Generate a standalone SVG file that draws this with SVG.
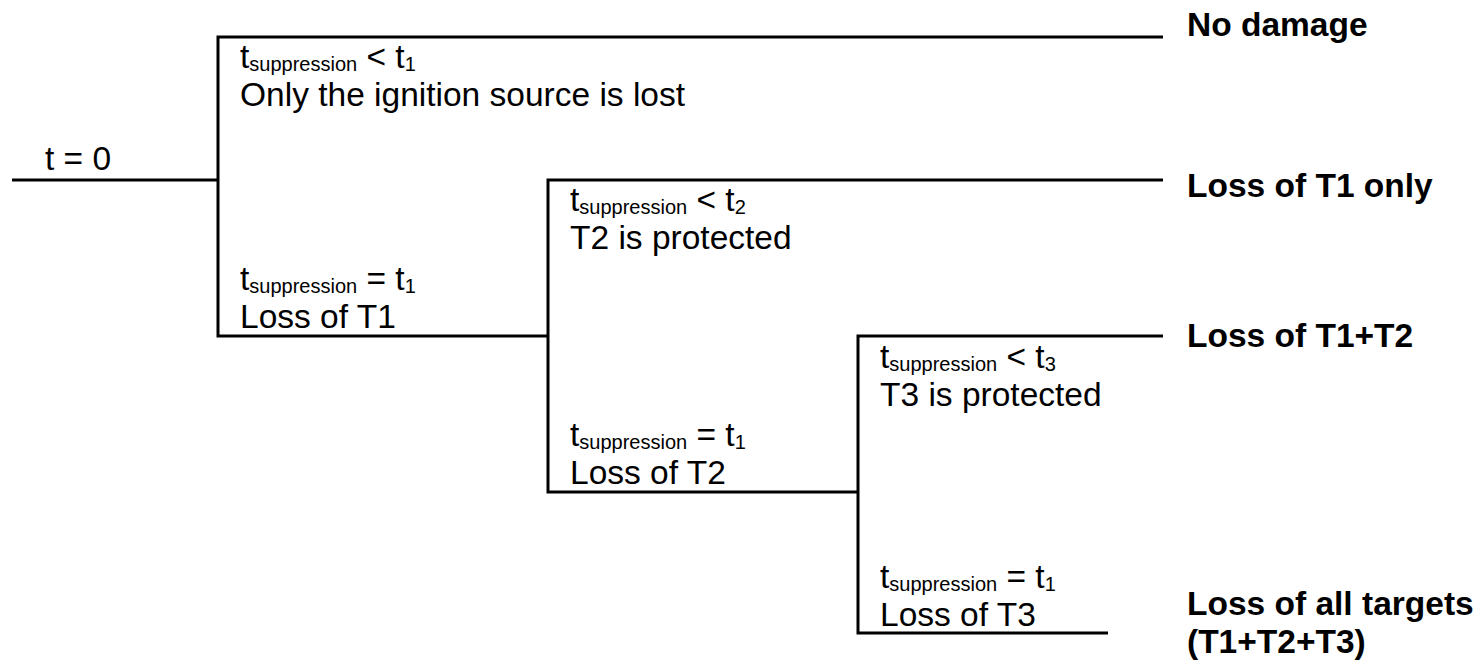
<svg xmlns="http://www.w3.org/2000/svg" width="1482" height="663" viewBox="0 0 1482 663">
<style>
  .ln { fill: none; stroke: #000; stroke-width: 3; stroke-linecap: butt; stroke-linejoin: miter; }
  .t { font-family: "Liberation Sans", Arial, sans-serif; font-size: 33.5px; fill: #000; }
  .sub { font-size: 20px; }
  .b { font-family: "Liberation Sans", Arial, sans-serif; font-size: 33.5px; font-weight: bold; fill: #000; }
</style>
<rect width="1482" height="663" fill="#fff"/>
<g id="connectors">
  <path class="ln" d="M12,180 H218"/>
  <path class="ln" d="M1163,37 H218 V336 H548"/>
  <path class="ln" d="M1163,180 H548 V492 H858"/>
  <path class="ln" d="M1163,336 H858 V633 H1108"/>
</g>
<g id="start">
  <text class="t" x="45" y="170">t = 0</text>
</g>
<g id="branch-a">
  <text class="t" x="240" y="68">t<tspan class="sub" dy="3">suppression</tspan><tspan dy="-3"> &lt; t</tspan><tspan class="sub" dy="3">1</tspan></text>
  <text class="t" x="240" y="106">Only the ignition source is lost</text>
</g>
<g id="branch-b">
  <text class="t" x="240" y="290">t<tspan class="sub" dy="3">suppression</tspan><tspan dy="-3"> = t</tspan><tspan class="sub" dy="3">1</tspan></text>
  <text class="t" x="240" y="328">Loss of T1</text>
</g>
<g id="branch-c">
  <text class="t" x="570" y="211">t<tspan class="sub" dy="3">suppression</tspan><tspan dy="-3"> &lt; t</tspan><tspan class="sub" dy="3">2</tspan></text>
  <text class="t" x="570" y="249">T2 is protected</text>
</g>
<g id="branch-d">
  <text class="t" x="570" y="446">t<tspan class="sub" dy="3">suppression</tspan><tspan dy="-3"> = t</tspan><tspan class="sub" dy="3">1</tspan></text>
  <text class="t" x="570" y="484">Loss of T2</text>
</g>
<g id="branch-e">
  <text class="t" x="880" y="368">t<tspan class="sub" dy="3">suppression</tspan><tspan dy="-3"> &lt; t</tspan><tspan class="sub" dy="3">3</tspan></text>
  <text class="t" x="880" y="406">T3 is protected</text>
</g>
<g id="branch-f">
  <text class="t" x="880" y="588">t<tspan class="sub" dy="3">suppression</tspan><tspan dy="-3"> = t</tspan><tspan class="sub" dy="3">1</tspan></text>
  <text class="t" x="880" y="626">Loss of T3</text>
</g>
<g id="outcome-1">
  <text class="b" x="1187" y="36">No damage</text>
</g>
<g id="outcome-2">
  <text class="b" x="1187" y="197">Loss of T1 only</text>
</g>
<g id="outcome-3">
  <text class="b" x="1187" y="347">Loss of T1+T2</text>
</g>
<g id="outcome-4">
  <text class="b"><tspan x="1187" y="615">Loss of all targets</tspan><tspan x="1187" y="653">(T1+T2+T3)</tspan></text>
</g>
</svg>
